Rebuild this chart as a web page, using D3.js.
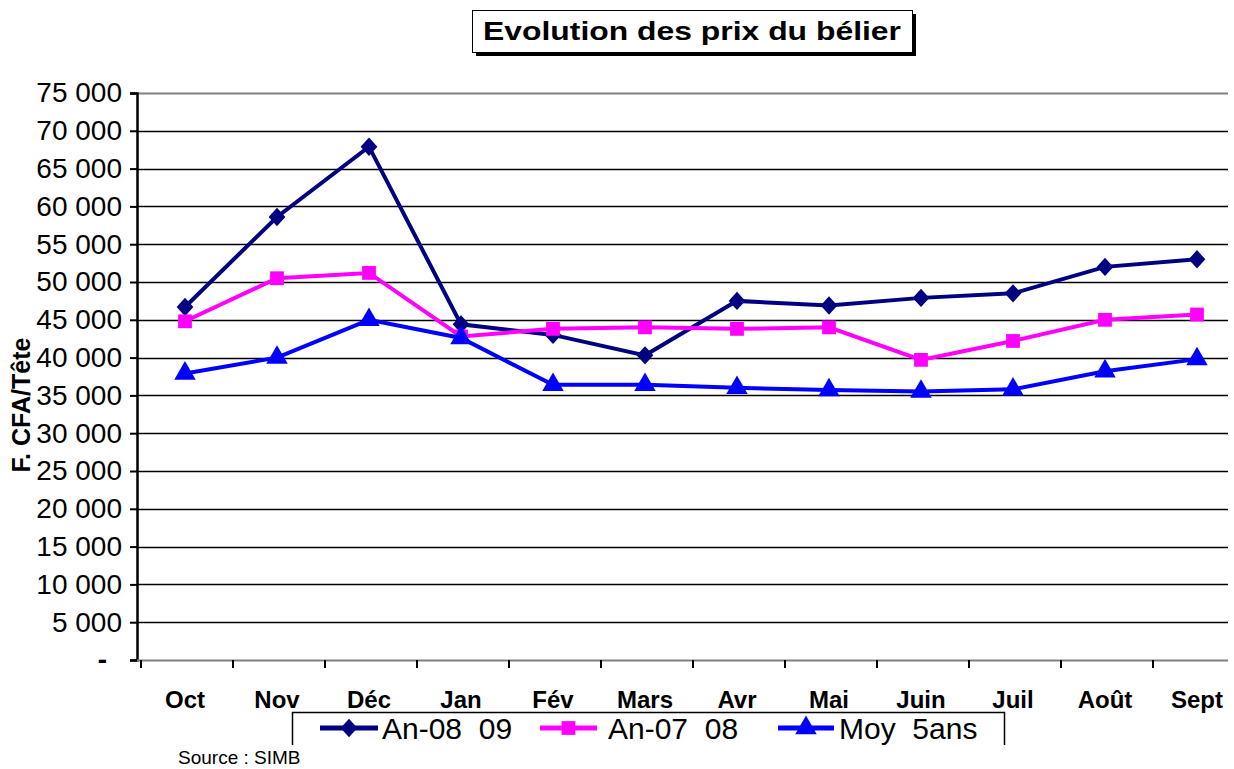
<!DOCTYPE html>
<meta charset="utf-8">
<style>
body { margin: 0; background: #fff; }
text { font-family: Arial, "Liberation Sans", sans-serif; white-space: pre; }
</style>
<svg width="1234" height="769"></svg>
<script src="https://d3js.org/d3.v7.min.js"></script>
<script>

var months = ["Oct", "Nov", "Déc", "Jan", "Fév", "Mars", "Avr", "Mai", "Juin", "Juil", "Août", "Sept"];
var an0809 = [46700, 58600, 67900, 44400, 43000, 40300, 47500, 46900, 47900, 48500, 52000, 53000];
var an0708 = [44800, 50500, 51200, 42800, 43800, 44000, 43800, 44000, 39700, 42200, 45000, 45700];
var moy5 = [37900, 40000, 45000, 42600, 36400, 36400, 36000, 35700, 35500, 35800, 38200, 39800];
var yTicks = [0, 5000, 10000, 15000, 20000, 25000, 30000, 35000, 40000, 45000, 50000, 55000, 60000, 65000, 70000, 75000];

// diamond drawn as a square turned 45 degrees
var wideDiamond = {
  draw: function(ctx, size) {
    var r = Math.sqrt(size / 2);
    ctx.moveTo(0, -r * 1.1);
    ctx.lineTo(r, 0);
    ctx.lineTo(0, r * 1.1);
    ctx.lineTo(-r, 0);
    ctx.closePath();
  }
};

var series = [
  {name: "An-08  09", values: an0809, color: "#000080", symbol: wideDiamond, size: 140},
  {name: "An-07  08", values: an0708, color: "#ff00ff", symbol: d3.symbolSquare, size: 190},
  {name: "Moy  5ans", values: moy5, color: "#0000ff", symbol: d3.symbolTriangle, size: 200}
];

var svg = d3.select("svg");
var plotLeft = 137, plotRight = 1228, plotTop = 93, plotBottom = 660;

var x = d3.scaleBand().domain(months).range([139, 1243]).paddingInner(0);
var y = d3.scaleLinear().domain([0, 75000]).range([plotBottom, plotTop]);

var fmt = function(v) { return v === 0 ? "-" : d3.format(",")(v).replace(",", " "); };

// grid
svg.append("g").selectAll("line")
  .data(yTicks.filter(function(d) { return d > 0; }))
  .enter().append("line")
  .attr("x1", plotLeft).attr("x2", plotRight)
  .attr("y1", function(d) { return Math.round(y(d)) + 0.5; })
  .attr("y2", function(d) { return Math.round(y(d)) + 0.5; })
  .attr("stroke", function(d) { return d === 75000 ? "#808080" : "#000"; })
  .attr("stroke-width", function(d) { return d === 75000 ? 2 : 1.5; });

// y axis
var yAxis = svg.append("g")
  .attr("transform", "translate(" + plotLeft + ",0)")
  .call(d3.axisLeft(y).tickValues(yTicks).tickFormat(fmt).tickSize(7).tickPadding(8));
yAxis.select(".domain").attr("stroke", "#000").attr("stroke-width", 2.5);
yAxis.selectAll(".tick line").attr("stroke", "#000").attr("stroke-width", 2);
yAxis.selectAll(".tick text").attr("font-size", 28).attr("fill", "#000")
  .attr("font-family", "Arial, 'Liberation Sans', sans-serif");
yAxis.selectAll(".tick text").filter(function(d) { return d === 0; })
  .attr("font-weight", "bold").attr("dx", -15);

// x axis
svg.append("line").attr("x1", plotLeft).attr("x2", plotRight)
  .attr("y1", plotBottom + 0.5).attr("y2", plotBottom + 0.5)
  .attr("stroke", "#808080").attr("stroke-width", 2);
svg.append("g").selectAll("line").data(months).enter().append("line")
  .attr("x1", function(d) { return x(d) + 2; }).attr("x2", function(d) { return x(d) + 2; })
  .attr("y1", plotBottom).attr("y2", plotBottom + 8)
  .attr("stroke", "#000").attr("stroke-width", 2);
svg.append("g").selectAll("text").data(months).enter().append("text")
  .attr("x", function(d) { return x(d) + x.bandwidth() / 2; })
  .attr("y", 708)
  .attr("text-anchor", "middle")
  .attr("font-size", 24).attr("font-weight", "bold")
  .text(function(d) { return d; });

// y label
svg.append("text")
  .attr("transform", "translate(30,405) rotate(-90)")
  .attr("text-anchor", "middle")
  .attr("font-size", 25).attr("font-weight", "bold")
  .text("F. CFA/Tête");

// lines and markers
var line = d3.line()
  .x(function(d, i) { return x(months[i]) + x.bandwidth() / 2; })
  .y(function(d) { return y(d); });

series.forEach(function(s) {
  svg.append("path").datum(s.values)
    .attr("d", line)
    .attr("fill", "none")
    .attr("stroke", s.color)
    .attr("stroke-width", 4);
  svg.append("g").selectAll("path").data(s.values).enter().append("path")
    .attr("transform", function(d, i) {
      return "translate(" + (x(months[i]) + x.bandwidth() / 2) + "," + y(d) + ")";
    })
    .attr("d", d3.symbol().type(s.symbol).size(s.size))
    .attr("fill", s.color);
});

// title
svg.append("rect").attr("x", 476).attr("y", 14).attr("width", 440).attr("height", 42).attr("fill", "#000");
svg.append("rect").attr("x", 472.5).attr("y", 10.5).attr("width", 440).attr("height", 42)
  .attr("fill", "#fff").attr("stroke", "#000").attr("stroke-width", 1);
svg.append("text").attr("x", 692).attr("y", 40)
  .attr("text-anchor", "middle")
  .attr("font-size", 26).attr("font-weight", "bold")
  .attr("textLength", 418).attr("lengthAdjust", "spacingAndGlyphs")
  .text("Evolution des prix du bélier");

// legend
svg.append("path").attr("d", "M292.5,745V712.5H1004.5V745")
  .attr("fill", "none").attr("stroke", "#000").attr("stroke-width", 1.5);
var legX = [[320, 378, 382], [540, 597, 608], [778, 834, 839]];
series.forEach(function(s, i) {
  var g = svg.append("g");
  g.append("line").attr("x1", legX[i][0]).attr("x2", legX[i][1])
    .attr("y1", 728).attr("y2", 728)
    .attr("stroke", s.color).attr("stroke-width", 5);
  g.append("path")
    .attr("transform", "translate(" + (legX[i][0] + legX[i][1]) / 2 + ",728)")
    .attr("d", d3.symbol().type(s.symbol).size(s.size))
    .attr("fill", s.color);
  g.append("text").attr("x", legX[i][2]).attr("y", 739)
    .attr("font-size", 30)
    .text(s.name);
});

svg.append("text").attr("x", 178).attr("y", 764)
  .attr("font-size", 19)
  .text("Source : SIMB");

</script>
